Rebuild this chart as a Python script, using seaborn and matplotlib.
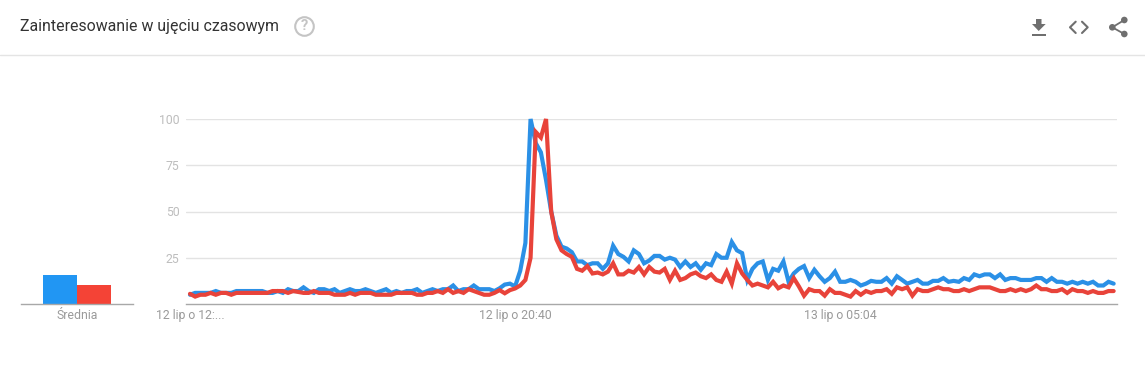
import seaborn as sns
import matplotlib.pyplot as plt
import matplotlib.patches as mpatches
import pandas as pd

blue = [5, 6, 6, 6, 6, 7, 6, 6, 6, 7, 7, 7, 7, 7, 7, 6, 6, 7, 6, 8,
        7, 7, 9, 7, 6, 8, 8, 7, 8, 6, 7, 8, 7, 7, 8, 7, 6, 7, 8, 6,
        7, 6, 7, 7, 8, 6, 7, 8, 7, 8, 8, 10, 7, 8, 8, 10, 8, 8, 8, 7,
        8.5, 10.5, 11, 9.5, 18, 33, 100, 87, 82, 67, 50, 37, 31, 30, 28, 23, 23, 21, 22, 22,
        19, 22, 31.5, 27, 25.5, 23, 29, 27, 22, 23.5, 26, 26, 24, 25, 24, 20, 23, 20, 22, 18.5,
        22, 21, 27, 25, 25, 33.5, 29, 27.5, 13, 19, 22, 23, 13, 19, 18, 23, 12, 16.5, 19, 20.5,
        14, 18.5, 15, 12, 14, 17.5, 12, 12, 13, 12, 10, 11, 12.5, 12, 12, 14, 11, 15, 13, 11,
        12, 13, 11, 11, 12.5, 12.5, 14, 12, 12.5, 12, 14, 13, 16, 15, 16, 16, 14, 16, 13, 14,
        14, 13, 13, 13, 14, 14, 12, 14, 12, 12, 11, 12, 11, 12, 11, 12, 10, 10, 12, 11]
red = [5.5, 4, 5, 5, 6, 5, 6, 6, 5, 6, 6, 6, 6, 6, 6, 6, 7, 7, 7, 6,
       7, 6.5, 6, 6, 7, 6, 6, 6, 5, 5, 5, 6, 5, 6, 6, 6, 5, 5, 5, 5,
       6, 6, 6, 6, 5, 5, 6, 6, 7, 6, 8, 6, 7, 6, 8, 7, 6, 5, 5, 6,
       7.5, 5.8, 7.5, 8.4, 10, 13, 25, 93, 90, 100, 50, 35, 29, 27, 25.5, 19, 18, 20.5, 16.5, 17,
       16, 17.5, 22, 16, 16, 18, 17, 20, 16, 20, 17.5, 17, 19, 13, 18, 13, 14, 16, 17, 15,
       14, 16, 13, 12, 17.5, 11, 22, 16.5, 13, 10, 11, 10, 9, 12, 8.5, 10, 9, 14, 9.5, 4.5,
       8, 7, 7, 4.5, 8, 6, 6, 5, 4, 7, 5, 7, 6, 7, 7, 8, 5.5, 9, 8, 9,
       4.5, 8, 7, 7, 8, 9, 8, 8, 7, 7, 8, 7, 8, 9, 9, 9, 8, 7, 7, 8,
       7, 8, 7, 8, 10, 8, 8, 7, 7, 8, 6, 8, 7, 7, 6, 7, 6, 6, 7, 7]
series_names = ['Wyszukiwanie 1', 'Wyszukiwanie 2']
averages = [15.7, 10.3]
y_ticks = [25, 50, 75, 100]
x_tick_pos = [0, 63, 126]
x_tick_labels = ['12 lip o 12:...', '12 lip o 20:40', '13 lip o 05:04']

W, H = 1145, 391

sns.set_style('white')
plt.rcParams['font.family'] = ['Roboto', 'DejaVu Sans']

fig = plt.figure(figsize=(W / 100, H / 100), dpi=100)


def px_axes(x0, x1, top, bottom, **kw):
    return fig.add_axes([x0 / W, 1 - bottom / H, (x1 - x0) / W, (bottom - top) / H], **kw)


# Wykres glowny
df = pd.DataFrame({'t': list(range(len(blue))) * 2,
                   'v': blue + red,
                   's': [series_names[0]] * len(blue) + [series_names[1]] * len(red)})
ax = px_axes(186, 1117, 119, 304)
sns.lineplot(data=df, x='t', y='v', hue='s', palette=['#2b90e6', '#e8433a'], linewidth=3.0,
             legend=False, ax=ax, clip_on=False, errorbar=None, solid_joinstyle='miter')
ax.set_xlim(-0.775, 179.65)
ax.set_ylim(0, 100)
ax.set_xticks(x_tick_pos, x_tick_labels)
ax.set_yticks(y_ticks)
ax.set_xlabel('')
ax.set_ylabel('')
ax.grid(axis='y', color='#e3e3e3', linewidth=1)
ax.set_axisbelow(True)
ax.tick_params(axis='x', length=0, pad=3.5, labelsize=8.8, labelcolor='#9a9a9a')
ax.tick_params(axis='y', length=0, pad=4.5, labelsize=8.8, labelcolor='#bdbdbd')
sns.despine(ax=ax, left=True)
ax.spines['bottom'].set_color('#a8a8a8')
ax.spines['bottom'].set_linewidth(1)

# Srednia
ax2 = px_axes(21, 133, 119, 304)
sns.barplot(x=['Średnia'] * 2, y=averages, hue=series_names, palette=['#2196f3', '#f44336'],
            width=1, saturation=1, legend=False, ax=ax2, linewidth=0)
ax2.set_xlim(-0.8235, 0.8235)
ax2.set_ylim(0, 100)
ax2.set_yticks([])
ax2.tick_params(axis='x', length=0, pad=3.5, labelsize=8.8, labelcolor='#9a9a9a')
sns.despine(ax=ax2, left=True)
ax2.spines['bottom'].set_color('#a8a8a8')
ax2.spines['bottom'].set_linewidth(1)
ax2.patch.set_alpha(0)

# Naglowek i ikony
top = px_axes(0, W, 0, H)
top.set_xlim(0, W)
top.set_ylim(H, 0)
top.axis('off')
top.patch.set_alpha(0)
top.plot([0, W], [54.5, 54.5], color='#e4e4e4', lw=1)
top.text(20, 26.5, 'Zainteresowanie w ujęciu czasowym', fontsize=11.45, color='#333333',
         va='center', ha='left')
top.add_patch(mpatches.Circle((304.5, 26.5), 9.3, fill=False, ec='#c4c4c4', lw=1.5))
top.text(304.5, 26.5, '?', fontsize=10.5, color='#c4c4c4', ha='center', va='center', weight='bold')

ICON = '#6f6f6f'
top.add_patch(mpatches.Polygon([(1036, 19), (1041.5, 19), (1041.5, 24), (1045.7, 24), (1038.7, 31),
                                (1032, 24), (1036, 24)], color=ICON, lw=0))
top.add_patch(mpatches.Rectangle((1032, 33.5), 13.7, 2, color=ICON, lw=0))
top.plot([1075.7, 1070, 1075.7], [21.7, 27.3, 33], color=ICON, lw=1.5)
top.plot([1082, 1087.7, 1082], [21.7, 27.3, 33], color=ICON, lw=1.5)
top.plot([1124.3, 1112.3, 1124.3], [20, 27.3, 34], color=ICON, lw=1.3)
for cx, cy in [(1124.3, 20), (1112.3, 27.3), (1124.3, 34)]:
    top.add_patch(mpatches.Ellipse((cx, cy), 6.6, 6.6, color=ICON, lw=0))

fig.savefig('out.png', dpi=100)
